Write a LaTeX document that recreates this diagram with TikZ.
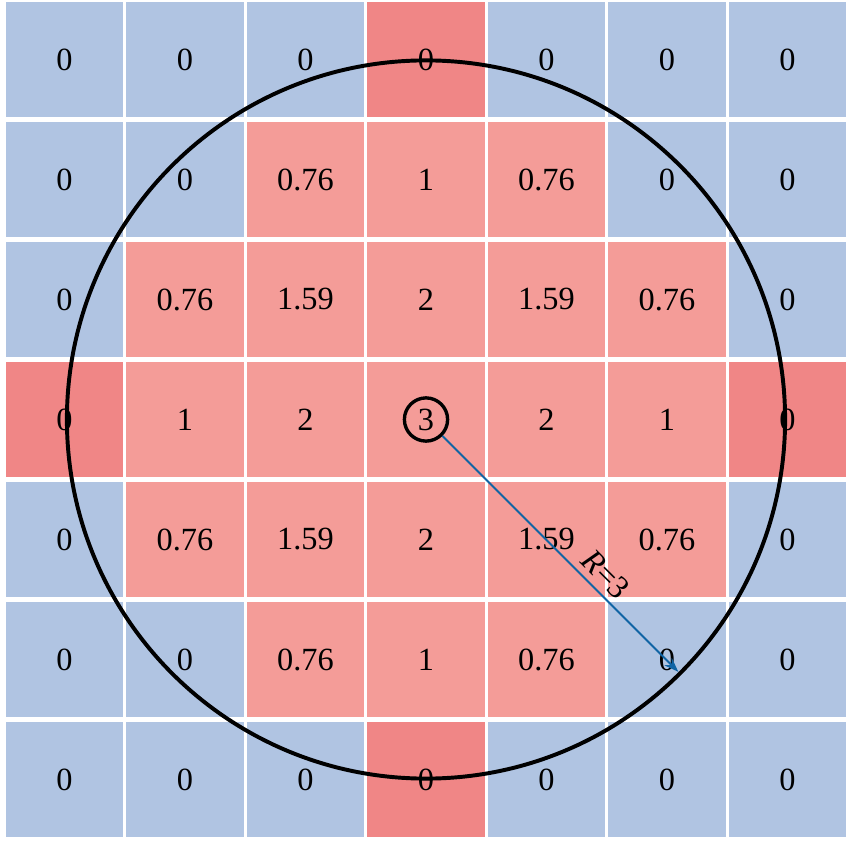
\documentclass[tikz,border=0pt]{standalone}
\usepackage{fontspec}
\setmainfont{Liberation Serif}
\usetikzlibrary{shapes,arrows,arrows.meta,positioning}
\usepackage{xcolor}
\definecolor{cellblue}{RGB}{176,196,226}
\definecolor{cellpink}{RGB}{244,156,152}
\definecolor{cellred}{RGB}{240,134,134}
\definecolor{radblue}{RGB}{16,100,164}
\tikzset{
gridcell/.style={rectangle,inner sep=0pt,minimum width=2.925cm,minimum height=2.875cm,
  font=\fontsize{23}{27}\selectfont},
cellb/.style={gridcell,fill=cellblue},
cellp/.style={gridcell,fill=cellpink},
cellr/.style={gridcell,fill=cellred},
ringmark/.style={circle,draw=black,line width=2.4pt,minimum size=1.08cm,inner sep=0pt},
bigring/.style={circle,draw=black,line width=2.8pt,minimum size=17.95cm,inner sep=0pt},
radarr/.style={draw=radblue,line width=1.3pt,-{Stealth[length=3.6mm,width=2.6mm]}}
}
\begin{document}
\begin{tikzpicture}[x=0.025cm,y=-0.025cm]
\fill[white] (0,0) rectangle (849,846);
\useasboundingbox (0,0) rectangle (849,846);
% 7x7 grid of values
\foreach \row/\vals in {
  0/{0/b,0/b,0/b,0/r,0/b,0/b,0/b},
  1/{0/b,0/b,0.76/p,1/p,0.76/p,0/b,0/b},
  2/{0/b,0.76/p,1.59/p,2/p,1.59/p,0.76/p,0/b},
  3/{0/r,1/p,2/p,3/p,2/p,1/p,0/r},
  4/{0/b,0.76/p,1.59/p,2/p,1.59/p,0.76/p,0/b},
  5/{0/b,0/b,0.76/p,1/p,0.76/p,0/b,0/b},
  6/{0/b,0/b,0/b,0/r,0/b,0/b,0/b}}
  \foreach \v/\c [count=\col from 0] in \vals
    \node[cell\c] (c-\row-\col) at (64.5+120.5*\col,59.5+120*\row) {\v};
% circle of radius 3 round the centre
\node[ringmark] (ctr) at (c-3-3) {};
\node[bigring] (rim) at (c-3-3) {};
\draw[radarr] (ctr) -- ([shift={(-3,-3)}]rim.-45)
  node[pos=0.64,sloped,above,inner sep=4pt,text=black,font=\fontsize{23}{27}\selectfont] {\textit{R}=3};
\end{tikzpicture}
\end{document}
